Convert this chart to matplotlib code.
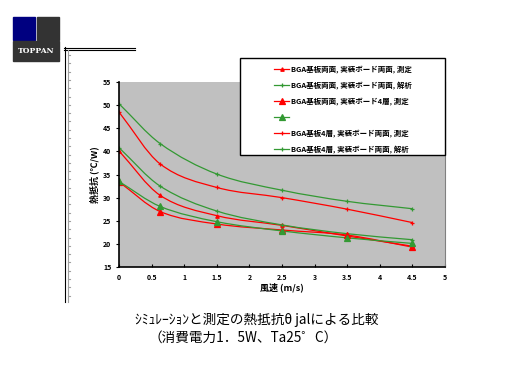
import numpy as np
import matplotlib
matplotlib.use("Agg")
import matplotlib.pyplot as plt
from matplotlib.path import Path
from matplotlib.patches import PathPatch, Rectangle
from matplotlib.lines import Line2D

plt.rcParams["font.family"] = ["Noto Sans CJK JP", "DejaVu Sans"]

## Data
wind = [0, 0.63, 1.5, 2.5, 3.5, 4.5]
s1_vals = [40.1, 30.5, 26.1, 24.0, 21.7, 19.5]   # BGA両面 / ボード両面 測定
s2_vals = [40.8, 32.5, 27.1, 24.1, 22.2, 20.9]   # BGA両面 / ボード両面 解析
s3_vals = [33.4, 27.0, 24.3, 23.0, 21.9, 19.3]   # BGA両面 / ボード4層 測定
s4_vals = [33.5, 28.1, 24.8, 22.8, 21.3, 20.1]   # (no label)
s5_vals = [48.5, 37.3, 32.2, 30.0, 27.5, 24.6]   # BGA4層 / ボード両面 測定
s6_vals = [50.3, 41.7, 35.1, 31.6, 29.2, 27.6]   # BGA4層 / ボード両面 解析
labels = [
    "BGA基板両面, 実装ボード両面, 測定",
    "BGA基板両面, 実装ボード両面, 解析",
    "BGA基板両面, 実装ボード4層, 測定",
    "",
    "BGA基板4層, 実装ボード両面, 測定",
    "BGA基板4層, 実装ボード両面, 解析",
]
xticks = [0, 0.5, 1, 1.5, 2, 2.5, 3, 3.5, 4, 4.5, 5]
yticks = [15, 20, 25, 30, 35, 40, 45, 50, 55]

RED = "#ff0000"
GREEN = "#339933"
series = [
    (s1_vals, RED, "^", 2.5),
    (s2_vals, GREEN, "+", 3.5),
    (s3_vals, RED, "^", 4),
    (s4_vals, GREEN, "^", 4),
    (s5_vals, RED, "+", 3.5),
    (s6_vals, GREEN, "+", 3.5),
]

W, H = 512, 384


def fx(px):
    return px / W


def fy(py):
    return 1 - py / H


def smooth_path(xs, ys):
    """Smoothed line through the points (cubic hermite, as bezier)"""
    x = np.asarray(xs, float)
    y = np.asarray(ys, float)
    n = len(x)
    m = np.empty(n)
    m[0] = (y[1] - y[0]) / (x[1] - x[0])
    m[-1] = (y[-1] - y[-2]) / (x[-1] - x[-2])
    m[1:-1] = (y[2:] - y[:-2]) / (x[2:] - x[:-2])
    verts = [(x[0], y[0])]
    codes = [Path.MOVETO]
    for i in range(n - 1):
        d = (x[i + 1] - x[i]) / 3
        verts += [(x[i] + d, y[i] + d * m[i]),
                  (x[i + 1] - d, y[i + 1] - d * m[i + 1]),
                  (x[i + 1], y[i + 1])]
        codes += [Path.CURVE4] * 3
    return Path(verts, codes)


fig = plt.figure(figsize=(5.12, 3.84), dpi=100)
ax = fig.add_axes([fx(119), fy(267), fx(445) - fx(119), fy(82) - fy(267)])
ax.set_facecolor("#c0c0c0")

handles = []
for vals, col, mk, ms in series:
    ax.add_patch(PathPatch(smooth_path(wind, vals), fill=False, edgecolor=col, lw=0.9))
    ax.plot(wind, vals, ls="none", marker=mk, ms=ms, color=col, mew=0.9)
    handles.append(Line2D([], [], color=col, lw=0.9, marker=mk, ms=ms, mew=0.9))

ax.set_xlim(0, 5)
ax.set_ylim(15, 55)
ax.set_xticks(xticks)
ax.set_xticklabels([f"{t:g}" for t in xticks], fontsize=5, fontweight="bold")
ax.set_yticks(yticks)
ax.set_yticklabels([str(t) for t in yticks], fontsize=5, fontweight="bold")
ax.tick_params(axis="x", direction="in", length=2.5, width=0.8, pad=5)
ax.tick_params(axis="y", direction="out", length=2.5, width=0.8, pad=3)
ax.spines["top"].set_visible(False)
ax.spines["right"].set_color("#808080")
ax.spines["right"].set_linewidth(0.8)
ax.spines["left"].set_linewidth(1.2)
ax.spines["bottom"].set_linewidth(1.2)
ax.set_xlabel("風速 (m/s)", fontsize=6.5, fontweight="bold", labelpad=1)
ax.set_ylabel("熱抵抗 (℃/W)", fontsize=6.5, fontweight="bold", labelpad=3)

# legend box
fig.patches.append(Rectangle((fx(240), fy(155)), fx(445) - fx(240), fy(58) - fy(155),
                             transform=fig.transFigure, facecolor="white",
                             edgecolor="black", lw=1.0, zorder=5))
fig.legend(handles, labels, loc="upper left", bbox_to_anchor=(fx(271), fy(62)),
           frameon=False, handlelength=2.0, handletextpad=0.3,
           labelspacing=1.12, borderaxespad=0, prop={"size": 5.4, "weight": "bold"}
           ).set_zorder(6)

# logo
fig.patches.append(Rectangle((fx(13), fy(40)), fx(22), fy(17) - fy(40),
                             transform=fig.transFigure, color="#000080"))
fig.patches.append(Rectangle((fx(37), fy(40)), fx(22), fy(17) - fy(40),
                             transform=fig.transFigure, color="#333333"))
fig.patches.append(Rectangle((fx(13), fy(61)), fx(46), fy(41) - fy(61),
                             transform=fig.transFigure, color="#333333"))
fig.text(fx(36), fy(51), "TOPPAN", color="white", fontsize=5.5, fontweight="bold",
         family="DejaVu Serif", ha="center", va="center")

# frame corner
for yy in (47.5, 49.5):
    fig.add_artist(Line2D([fx(64), fx(135)], [fy(yy), fy(yy)], color="black", lw=0.8,
                          transform=fig.transFigure))
fig.add_artist(Line2D([fx(65), fx(65)], [fy(47), fy(302)], color="black", lw=0.8,
                      transform=fig.transFigure))
fig.add_artist(Line2D([fx(67.5), fx(67.5)], [fy(50), fy(302)], color="#a0a0a0", lw=0.8,
                      transform=fig.transFigure))
for ty in np.arange(55, 300, 8.3):
    fig.add_artist(Line2D([fx(67.5), fx(70)], [fy(ty), fy(ty)], color="#a0a0a0", lw=0.8,
                          transform=fig.transFigure))

# caption
fig.text(fx(257), fy(320), "ｼﾐｭﾚｰｼｮﾝと測定の熱抵抗θ jalによる比較", fontsize=9.8,
         ha="center", va="center")
fig.text(fx(243), fy(338), "（消費電力1．5W、Ta25゜C）", fontsize=9.8,
         ha="center", va="center")

fig.savefig("out.png", dpi=100, facecolor="white")
